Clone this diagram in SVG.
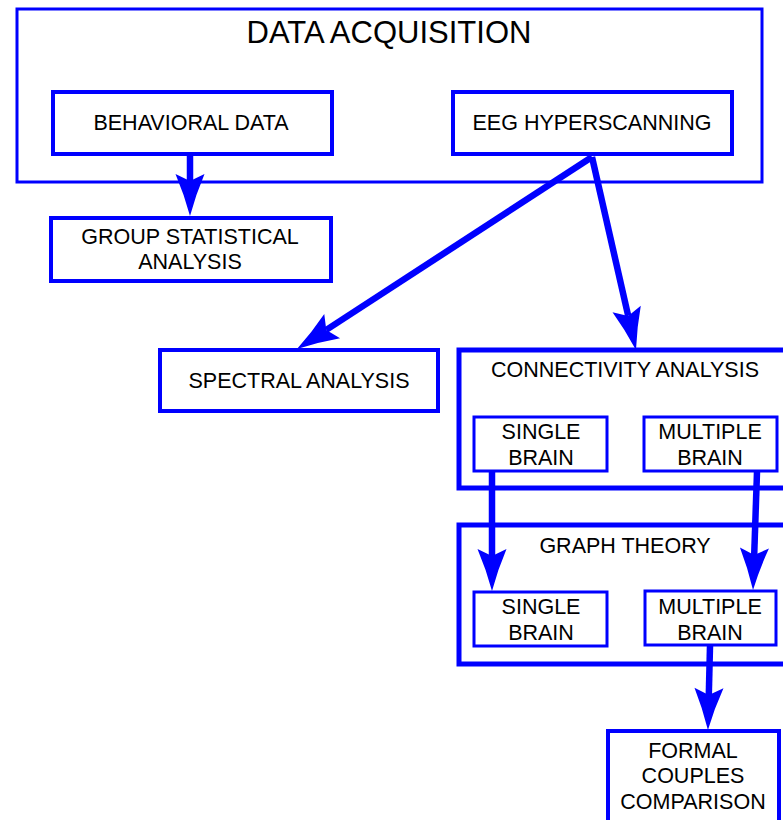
<svg xmlns="http://www.w3.org/2000/svg" width="783" height="820" viewBox="0 0 783 820">
  <style>
    .box { fill: none; stroke: #0000ff; stroke-width: 4; }
    .thin { stroke-width: 3; }
    .thick { stroke-width: 5; }
    .lbl { font-family: "Liberation Sans", Arial, sans-serif; font-size: 21.5px; fill: #000; text-anchor: middle; }
    .title { font-size: 31px; }
    .edge { fill: none; stroke: #0000ff; stroke-width: 6.5; marker-end: url(#head); }
  </style>
  <defs>
    <!-- notched arrowhead; origin sits at the notch, tip 35 units ahead -->
    <marker id="head" markerUnits="userSpaceOnUse" orient="auto" refX="0" refY="0" markerWidth="1" markerHeight="1" overflow="visible">
      <path d="M35,0 Q13,-6 -7,-14.5 L0,0 L-7,14.5 Q13,6 35,0 Z" fill="#0000ff"/>
    </marker>
  </defs>
  <rect width="783" height="820" fill="#fff"/>

  <g id="data-acquisition">
    <rect class="box thin" x="17" y="9" width="745" height="173"/>
    <text class="lbl title" x="389" y="43">DATA ACQUISITION</text>
  </g>
  <g id="behavioral-data">
    <rect class="box" x="53" y="92" width="279" height="62"/>
    <text class="lbl" x="191" y="130">BEHAVIORAL DATA</text>
  </g>
  <g id="eeg-hyperscanning">
    <rect class="box" x="453" y="92" width="279" height="62"/>
    <text class="lbl" x="592" y="130">EEG HYPERSCANNING</text>
  </g>
  <g id="group-statistical">
    <rect class="box" x="51" y="218" width="280" height="63"/>
    <text class="lbl" x="190" y="244">GROUP STATISTICAL</text>
    <text class="lbl" x="190" y="269">ANALYSIS</text>
  </g>
  <g id="spectral-analysis">
    <rect class="box" x="160" y="350" width="278" height="61"/>
    <text class="lbl" x="299" y="388">SPECTRAL ANALYSIS</text>
  </g>
  <g id="connectivity-analysis">
    <rect class="box thick" x="459" y="350" width="340" height="138"/>
    <text class="lbl" x="625" y="377">CONNECTIVITY ANALYSIS</text>
  </g>
  <g id="conn-single">
    <rect class="box thin" x="474" y="417" width="133" height="54"/>
    <text class="lbl" x="541" y="439">SINGLE</text>
    <text class="lbl" x="541" y="465">BRAIN</text>
  </g>
  <g id="conn-multiple">
    <rect class="box thin" x="644" y="417" width="133" height="54"/>
    <text class="lbl" x="710" y="439">MULTIPLE</text>
    <text class="lbl" x="710" y="465">BRAIN</text>
  </g>
  <g id="graph-theory">
    <rect class="box thick" x="459" y="525" width="340" height="139"/>
    <text class="lbl" x="625" y="553">GRAPH THEORY</text>
  </g>
  <g id="graph-single">
    <rect class="box thin" x="474" y="592" width="133" height="54"/>
    <text class="lbl" x="541" y="614">SINGLE</text>
    <text class="lbl" x="541" y="640">BRAIN</text>
  </g>
  <g id="graph-multiple">
    <rect class="box thin" x="645" y="591" width="131" height="54"/>
    <text class="lbl" x="710" y="614">MULTIPLE</text>
    <text class="lbl" x="710" y="640">BRAIN</text>
  </g>
  <g id="formal-couples">
    <rect class="box" x="608" y="731" width="171" height="100"/>
    <text class="lbl" x="693" y="758">FORMAL</text>
    <text class="lbl" x="693" y="783">COUPLES</text>
    <text class="lbl" x="693" y="809">COMPARISON</text>
  </g>

  <g id="connectors">
    <line class="edge" x1="190" y1="155" x2="190" y2="181"/>
    <line class="edge" x1="592" y1="157" x2="326.3" y2="329.9"/>
    <line class="edge" x1="592" y1="157" x2="628.2" y2="315.9"/>
    <line class="edge" x1="492" y1="472" x2="492" y2="556"/>
    <line class="edge" x1="757" y1="472" x2="754.2" y2="555"/>
    <line class="edge" x1="710" y1="646" x2="708.8" y2="695"/>
  </g>
</svg>
